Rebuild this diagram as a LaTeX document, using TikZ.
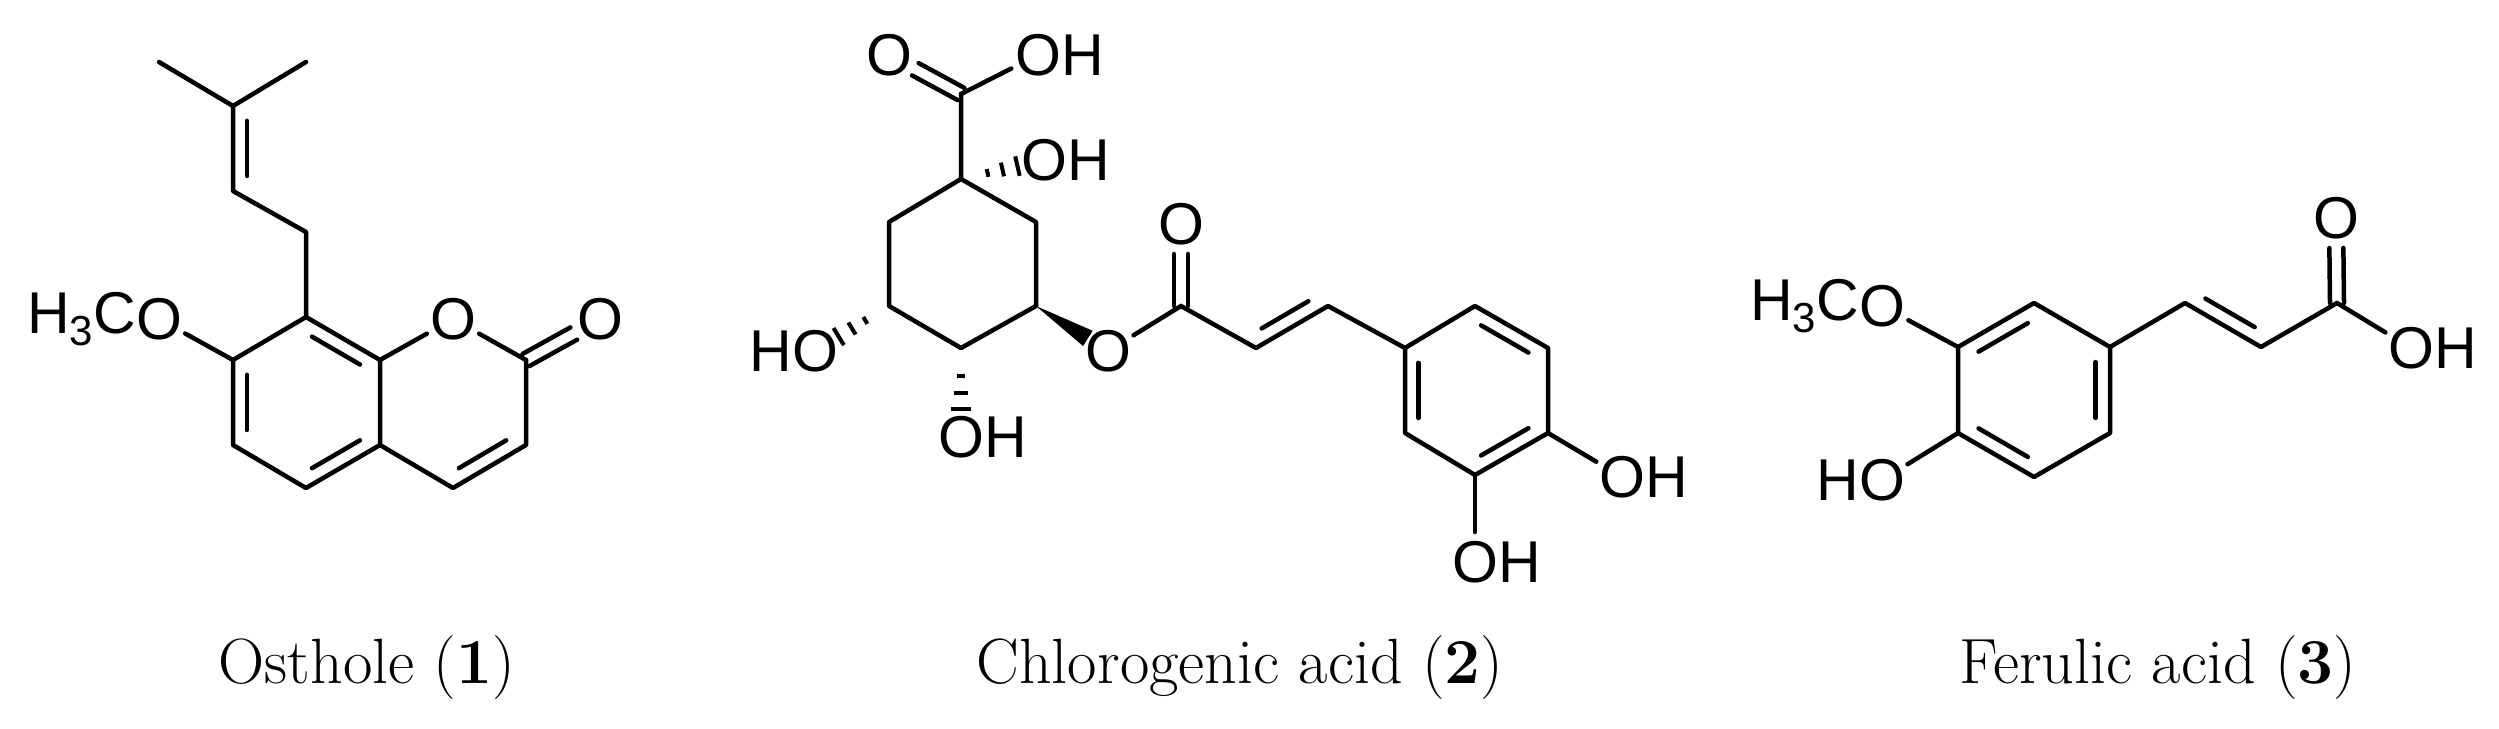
\documentclass[tikz,border=0pt]{standalone}
\usepackage{fontspec}
\newfontfamily\atomfont{Liberation Sans}
\usetikzlibrary{calc}
\tikzset{
  bond/.style={line width=4.5pt, line cap=round, line join=round},
  tohet/.style={bond, shorten >=30pt},
  fromhet/.style={bond, shorten <=30pt},
  atom/.style={font=\atomfont\fontsize{59}{59}\selectfont, inner sep=0pt, anchor=center},
  caption/.style={font=\fontsize{64}{64}\selectfont, inner sep=0pt}
}
\newcommand{\subthree}{\raisebox{-0.2em}{\fontsize{42}{42}\selectfont 3}}
\newcommand{\innerb}[3]{%
  \path ($(#1)!0.19!(#3)$) coordinate (p1) ($(#2)!0.19!(#3)$) coordinate (p2);
  \draw[bond] ($(p1)!0.1!(p2)$) -- ($(p2)!0.1!(p1)$);}
\newcommand{\symd}[3]{%
  \draw[bond, shorten >=#3] ($(#1)!7pt!90:(#2)$) -- ($(#2)!7pt!-90:(#1)$);
  \draw[bond, shorten >=#3] ($(#1)!7pt!-90:(#2)$) -- ($(#2)!7pt!90:(#1)$);}
\newcommand{\hashb}[2]{%
  \foreach \t/\w in {0.32/4pt,0.5/7pt,0.68/10pt}{%
    \draw[line width=4pt] ($($(#1)!\t!(#2)$)!\w!90:(#2)$) -- ($($(#1)!\t!(#2)$)!\w!-90:(#2)$);}}
\begin{document}
\begin{tikzpicture}[x=1pt,y=-1pt]
\useasboundingbox (0,0) rectangle (2499,728);
% ---------- Osthole ----------
\coordinate (a8) at (306,317); \coordinate (a7) at (233,360);
\coordinate (a6) at (233,445); \coordinate (a5) at (306,488);
\coordinate (a4a) at (380,445); \coordinate (a8a) at (380,360);
\coordinate (a2) at (526,360); \coordinate (a3) at (526,445);
\coordinate (a4) at (453,488);
\coordinate (ach2) at (306,232); \coordinate (ach) at (233,191);
\coordinate (ac) at (233,106); \coordinate (am1) at (159,62); \coordinate (am2) at (306,62);
\coordinate (cA) at (306,402); \coordinate (cB) at (453,402); \coordinate (cP) at (307,148);
\node[atom] (aO1) at (453,319) {O};
\node[atom] (aOc) at (600,319) {O};
\node[atom] (aOm) at (159,319) {O};
\node[atom, anchor=east] (aMe) at (aOm.west) {H\subthree C};
\draw[bond] (a8a) -- (a8) -- (a7) -- (a6) -- (a5) -- (a4a) -- (a8a);
\draw[bond] (a4a) -- (a4) -- (a3) -- (a2);
\draw[tohet] (a8a) -- (aO1.center);
\draw[tohet] (a2) -- (aO1.center);
\draw[tohet] (a7) -- (aOm.center);
\symd{a2}{aOc}{30pt}
\innerb{a8}{a8a}{cA} \innerb{a7}{a6}{cA} \innerb{a5}{a4a}{cA}
\innerb{a3}{a4}{cB}
\draw[bond] (a8) -- (ach2) -- (ach) -- (ac);
\draw[bond] (am1) -- (ac) -- (am2);
\innerb{ac}{ach}{cP}
% ---------- Chlorogenic acid ----------
\coordinate (bC) at (961,94); \coordinate (b1) at (961,179);
\coordinate (b2) at (889,222); \coordinate (b6) at (1036,222);
\coordinate (b3) at (889,306); \coordinate (b5) at (1036,306);
\coordinate (b4) at (961,348);
\coordinate (bE) at (1181,306); \coordinate (bA) at (1256,348); \coordinate (bB) at (1328,306);
\coordinate (r1) at (1405,348); \coordinate (r2) at (1475,306); \coordinate (r3) at (1548,348);
\coordinate (r4) at (1548,433); \coordinate (r5) at (1475,475); \coordinate (r6) at (1405,433);
\coordinate (cR) at (1476,390); \coordinate (cD) at (1255,263);
\node[atom] (bO1) at (889,55) {O};
\node[atom] (bO2) at (1038,55) {O};
\node[atom, anchor=west] (bH2) at (bO2.east) {H};
\node[atom] (bO3) at (1044,160) {O};
\node[atom, anchor=west] (bH3) at (bO3.east) {H};
\node[atom] (bO4) at (815,351) {O};
\node[atom, anchor=east] (bH4) at (bO4.west) {H};
\node[atom] (bO5) at (961,437) {O};
\node[atom, anchor=west] (bH5) at (bO5.east) {H};
\node[atom] (bO6) at (1108,351) {O};
\node[atom] (bO7) at (1181,224) {O};
\node[atom] (bO8) at (1622,477) {O};
\node[atom, anchor=west] (bH8) at (bO8.east) {H};
\node[atom] (bO9) at (1475,562) {O};
\node[atom, anchor=west] (bH9) at (bO9.east) {H};
\draw[bond] (b1) -- (b2) -- (b3) -- (b4) -- (b5) -- (b6) -- (b1) -- (bC);
\symd{bC}{bO1}{30pt}
\draw[tohet] (bC) -- (bO2.center);
\hashb{b1}{bO3.center}
\hashb{b3}{bO4.center}
\hashb{b4}{bO5.center}
\path ($(b5)!0.72!(bO6.center)$) coordinate (wend);
\fill (b5) -- ($(wend)!9pt!90:(b5)$) -- ($(wend)!9pt!-90:(b5)$) -- cycle;
\draw[fromhet] (bO6.center) -- (bE);
\symd{bE}{bO7}{30pt}
\draw[bond] (bE) -- (bA) -- (bB) -- (r1);
\innerb{bA}{bB}{cD}
\draw[bond] (r1) -- (r2) -- (r3) -- (r4) -- (r5) -- (r6) -- (r1);
\innerb{r2}{r3}{cR} \innerb{r1}{r6}{cR} \innerb{r4}{r5}{cR}
\draw[tohet] (r4) -- (bO8.center);
\draw[tohet] (r5) -- (bO9.center);
% ---------- Ferulic acid ----------
\coordinate (f3) at (1958,347); \coordinate (f2) at (2034,303); \coordinate (f1) at (2110,347);
\coordinate (f6) at (2110,433); \coordinate (f5) at (2034,477); \coordinate (f4) at (1958,433);
\coordinate (fA) at (2185,303); \coordinate (fB) at (2261,347); \coordinate (fC) at (2337,303);
\coordinate (cF) at (2034,390); \coordinate (cG) at (2260,261);
\node[atom] (fOm) at (1882,306) {O};
\node[atom, anchor=east] (fMe) at (fOm.west) {H\subthree C};
\node[atom] (fOh) at (1882,480) {O};
\node[atom, anchor=east] (fHh) at (fOh.west) {H};
\node[atom] (fOc) at (2336,218) {O};
\node[atom] (fOa) at (2411,348) {O};
\node[atom, anchor=west] (fHa) at (fOa.east) {H};
\draw[bond] (f1) -- (f2) -- (f3) -- (f4) -- (f5) -- (f6) -- (f1);
\innerb{f2}{f3}{cF} \innerb{f1}{f6}{cF} \innerb{f4}{f5}{cF}
\draw[tohet] (f3) -- (fOm.center);
\draw[tohet] (f4) -- (fOh.center);
\draw[bond] (f1) -- (fA) -- (fB) -- (fC);
\innerb{fA}{fB}{cG}
\symd{fC}{fOc}{30pt}
\draw[tohet] (fC) -- (fOa.center);
% ---------- captions ----------
\node[caption] (cap1) at (367,668) {Osthole (\textbf{1})};
\node[caption] (cap2) at (1240,668) {Chlorogenic acid (\textbf{2})};
\node[caption] (cap3) at (2158,668) {Ferulic acid (\textbf{3})};
\end{tikzpicture}
\end{document}
